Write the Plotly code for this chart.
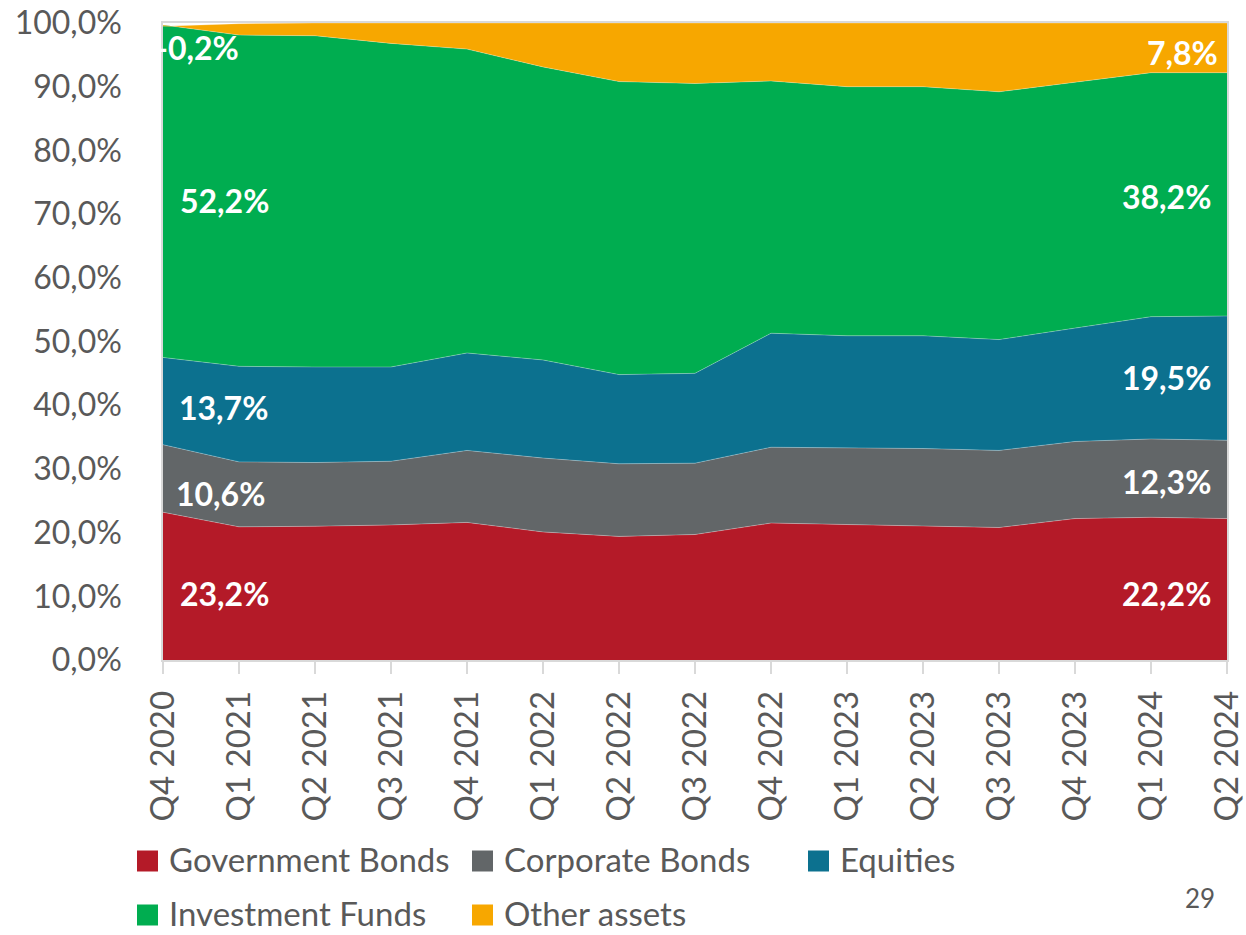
import plotly.graph_objects as go

# Quarterly asset allocation (share of total, %)
quarters = ["Q4 2020", "Q1 2021", "Q2 2021", "Q3 2021", "Q4 2021", "Q1 2022", "Q2 2022",
            "Q3 2022", "Q4 2022", "Q1 2023", "Q2 2023", "Q3 2023", "Q4 2023", "Q1 2024", "Q2 2024"]
government_bonds = [23.2, 20.9, 21.0, 21.2, 21.6, 20.1, 19.4, 19.7, 21.5, 21.3, 21.1, 20.8, 22.2, 22.4, 22.2]
corporate_bonds = [10.6, 10.2, 10.0, 10.0, 11.3, 11.6, 11.4, 11.2, 11.9, 12.0, 12.1, 12.1, 12.1, 12.3, 12.3]
equities = [13.7, 15.0, 15.0, 14.8, 15.3, 15.4, 14.0, 14.1, 17.9, 17.6, 17.7, 17.4, 17.8, 19.2, 19.5]
investment_funds = [52.2, 52.0, 52.0, 50.8, 47.7, 46.0, 46.0, 45.5, 39.6, 39.1, 39.1, 38.9, 38.6, 38.3, 38.2]
other_assets = [-0.2, 1.8, 2.0, 3.2, 4.1, 6.9, 9.2, 9.5, 9.1, 10.0, 10.0, 10.8, 9.3, 7.8, 7.8]

series = [
    ("Government Bonds", government_bonds, "#B41A28"),
    ("Corporate Bonds", corporate_bonds, "#626668"),
    ("Equities", equities, "#0C718F"),
    ("Investment Funds", investment_funds, "#00AD50"),
    ("Other assets", other_assets, "#F7A700"),
]

W, H = 1246, 935
L, R, T, B = 163, 19, 23, 275
PW, PH = W - L - R, H - T - B
FONT = "Lato"
GREY = "#595959"


def px_x(p):
    return (p - L) / PW


def px_y(p):
    return (T + PH - p) / PH


def fmt(v):
    return f"{v:.1f}".replace(".", ",") + "%"


fig = go.Figure()
for name, vals, col in series:
    fig.add_trace(go.Scatter(
        x=quarters, y=vals, name=name, mode="lines", stackgroup="one",
        line=dict(width=0.8, color="rgba(255,255,255,0.35)"),
        fillcolor=col, showlegend=False,
    ))

# Value labels at the first and last quarter
first_pos = {"Government Bonds": 10.4, "Corporate Bonds": 26.2, "Equities": 39.7,
             "Investment Funds": 72.1, "Other assets": 96.2}
last_pos = {"Government Bonds": 10.5, "Corporate Bonds": 28.1, "Equities": 44.3,
            "Investment Funds": 72.7, "Other assets": 95.4}
first_shift = {"Government Bonds": 15, "Corporate Bonds": 11, "Equities": 14,
               "Investment Funds": 15, "Other assets": -9}
last_shift = {"Government Bonds": -14, "Corporate Bonds": -14, "Equities": -14,
              "Investment Funds": -14, "Other assets": -7}
annotations = []
for name, vals, col in series:
    annotations.append(dict(
        x=quarters[0], y=first_pos[name], xref="x", yref="y", text=fmt(vals[0]),
        showarrow=False, xanchor="left", yanchor="middle", xshift=first_shift[name],
        font=dict(family=FONT, size=32, color="white", weight="bold"),
    ))
    annotations.append(dict(
        x=quarters[-1], y=last_pos[name], xref="x", yref="y", text=fmt(vals[-1]),
        showarrow=False, xanchor="right", yanchor="middle", xshift=last_shift[name],
        font=dict(family=FONT, size=32, color="white", weight="bold"),
    ))

# Legend drawn as squares and labels below the axis
legend_items = [
    ("Government Bonds", "#B41A28", 137, 859),
    ("Corporate Bonds", "#626668", 472, 859),
    ("Equities", "#0C718F", 808, 859),
    ("Investment Funds", "#00AD50", 137, 913),
    ("Other assets", "#F7A700", 472, 913),
]
shapes = []
for name, col, lx, cy in legend_items:
    shapes.append(dict(
        type="rect", xref="paper", yref="paper",
        x0=px_x(lx), x1=px_x(lx + 21), y0=px_y(cy + 12.5), y1=px_y(cy - 8.5),
        fillcolor=col, line=dict(width=0),
    ))
    annotations.append(dict(
        x=px_x(lx + 30), y=px_y(cy), xref="paper", yref="paper", text=name,
        showarrow=False, xanchor="left", yanchor="middle",
        font=dict(family=FONT, size=33, color=GREY),
    ))

annotations.append(dict(
    x=px_x(1200), y=px_y(898), xref="paper", yref="paper", text="29",
    showarrow=False, xanchor="center", yanchor="middle",
    font=dict(family=FONT, size=26, color=GREY),
))

tick_vals = list(range(0, 101, 10))
fig.update_layout(
    width=W, height=H,
    margin=dict(l=L, r=R, t=T, b=B, pad=0, autoexpand=False),
    paper_bgcolor="white", plot_bgcolor="white",
    showlegend=False,
    annotations=annotations,
    shapes=shapes,
    xaxis=dict(
        type="category", range=[0, len(quarters) - 1], tickangle=-90, automargin=False,
        showgrid=False, showline=True, linecolor="#D9D9D9", linewidth=1.5, mirror=True,
        ticks="outside", ticklen=12, tickcolor="#D9D9D9", tickwidth=1.5,
        tickfont=dict(family=FONT, size=33, color=GREY), ticklabelstandoff=4,
    ),
    yaxis=dict(
        range=[0, 100], tickvals=tick_vals, ticktext=[fmt(v) for v in tick_vals],
        automargin=False,
        showgrid=False, zeroline=False, showline=True, linecolor="#D9D9D9",
        linewidth=1.5, mirror=True, ticks="",
        tickfont=dict(family=FONT, size=32, color=GREY), ticklabelstandoff=33,
    ),
)

fig.write_html("out.html")
